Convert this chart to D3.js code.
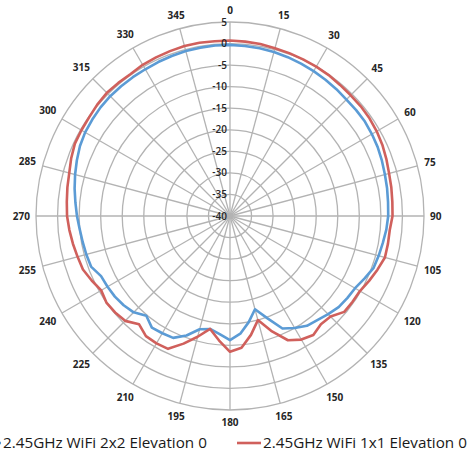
<!DOCTYPE html>
<html><head><meta charset="utf-8">
<script src="https://cdn.jsdelivr.net/npm/d3@7"></script>
<style>html,body{margin:0;padding:0;background:#fff;overflow:hidden}</style>
</head><body>
<svg id="c" width="470" height="455"></svg>
<script>
const angles = d3.range(0, 360, 5);
const angleTicks = d3.range(0, 360, 15);
const radialTicks = [5, 0, -5, -10, -15, -20, -25, -30, -35, -40];
const seriesNames = ["2.45GHz WiFi 2x2 Elevation 0", "2.45GHz WiFi 1x1 Elevation 0"];
const seriesColors = ["#5b9bd5", "#d0605c"];
const wifi2x2 = [
 -0.3,-0.4,-0.5,-0.6,-0.8,-1.0,-1.2,-1.4,-1.6,-1.8,-1.8,-1.8,
 -2.0,-2.2,-2.5,-2.8,-3.0,-3.2,-3.3,-3.6,-4.0,-4.3,-4.6,-5.6,
 -6.5,-6.8,-7.1,-7.8,-8.5,-8.9,-10.0,-11.2,-14.8,-17.6,-15.0,-12.6,
 -11.2,-12.5,-13.4,-12.8,-10.5,-8.8,-8.6,-8.4,-9.8,-8.4,-7.8,-7.4,
 -7.2,-7.0,-5.7,-5.5,-5.3,-5.0,-4.5,-4.0,-3.4,-2.8,-2.2,-1.6,
 -1.2,-1.0,-0.8,-0.7,-0.7,-0.7,-0.7,-0.6,-0.5,-0.4,-0.35,-0.3
];
const wifi1x1 = [
 0.7,0.6,0.5,0.3,0.2,0.1,0.0,-0.1,-0.3,-0.4,-0.4,-0.5,
 -0.7,-1.0,-1.4,-1.8,-2.0,-2.2,-2.3,-2.8,-2.8,-2.8,-3.6,-4.4,
 -5.2,-5.3,-5.4,-7.0,-7.2,-6.3,-6.9,-8.2,-11.5,-15.0,-12.0,-9.3,
 -8.5,-11.0,-13.4,-11.0,-8.5,-6.0,-5.9,-6.0,-7.2,-5.6,-5.2,-5.0,
 -5.5,-4.6,-3.7,-3.4,-3.0,-2.6,-2.2,-2.0,-1.7,-1.4,-0.8,-0.3,
 -0.2,-0.1,0.2,0.4,0.3,0.2,0.5,0.6,0.7,0.8,0.8,0.7
];
const series = [wifi2x2, wifi1x1];

const svg = d3.select("#c");
const cx = 230, cy = 216, R = 194;
const r = d3.scaleLinear().domain([-40, 5]).range([0, R]);
const a = d3.scaleLinear().domain([0, 360]).range([0, 2 * Math.PI]);
const g = svg.append("g").attr("transform", `translate(${cx},${cy})`);
const grid = "#b3b3b3";

// rings
g.selectAll("circle.ring").data(radialTicks.filter(d => d > -40)).join("circle")
  .attr("class", "ring").attr("r", d => r(d)).attr("fill", "none")
  .attr("stroke", grid).attr("stroke-width", 1.3);
// spokes
g.selectAll("line.spoke").data(angleTicks).join("line")
  .attr("class", "spoke")
  .attr("x1", 0).attr("y1", 0)
  .attr("x2", d => R * Math.sin(a(d))).attr("y2", d => -R * Math.cos(a(d)))
  .attr("stroke", grid).attr("stroke-width", 1.3);

// series
const line = d3.lineRadial().angle((d, i) => a(angles[i])).radius(d => r(d)).curve(d3.curveLinearClosed);
series.forEach((s, i) => {
  g.append("path").attr("d", line(s)).attr("fill", "none")
    .attr("stroke", seriesColors[i]).attr("stroke-width", 2.6).attr("stroke-linejoin", "round");
});

// radial tick labels
g.selectAll("text.rt").data(radialTicks).join("text")
  .attr("class", "rt").attr("x", -3).attr("y", d => -r(d))
  .attr("dy", "0.35em").attr("text-anchor", "end")
  .attr("font-family", "Open Sans, sans-serif").attr("font-size", 10).attr("font-weight", 600)
  .attr("fill", "#262626").text(d => d);

// angle labels
const at = g.selectAll("text.at").data(angleTicks).join("text")
  .attr("class", "at").attr("text-anchor", "middle").attr("dy", "0.35em")
  .attr("font-family", "Open Sans, sans-serif").attr("font-size", 10).attr("font-weight", 700)
  .attr("fill", "#262626").text(d => d);
at.each(function(d) {
  const w = this.getComputedTextLength();
  const s = Math.abs(Math.sin(a(d))), c = Math.abs(Math.cos(a(d)));
  const rr = 200 + s * w / 2 + c * 6;
  d3.select(this).attr("x", rr * Math.sin(a(d))).attr("y", -rr * Math.cos(a(d)));
});

// legend
const legY = 443;
const legX = [-23, 237];
seriesNames.forEach((n, i) => {
  svg.append("line").attr("x1", legX[i]).attr("x2", legX[i] + 24)
    .attr("y1", legY).attr("y2", legY).attr("stroke", seriesColors[i]).attr("stroke-width", 2.6);
  const t = svg.append("text").attr("x", legX[i] + 26).attr("y", legY).attr("dy", "0.35em")
    .attr("font-family", "Open Sans, sans-serif").attr("font-size", 14)
    .attr("fill", "#1a1a1a").text(n);
  const w = t.node().getComputedTextLength();
  t.attr("font-size", 14 * 204 / w);
});
</script>
</body></html>
